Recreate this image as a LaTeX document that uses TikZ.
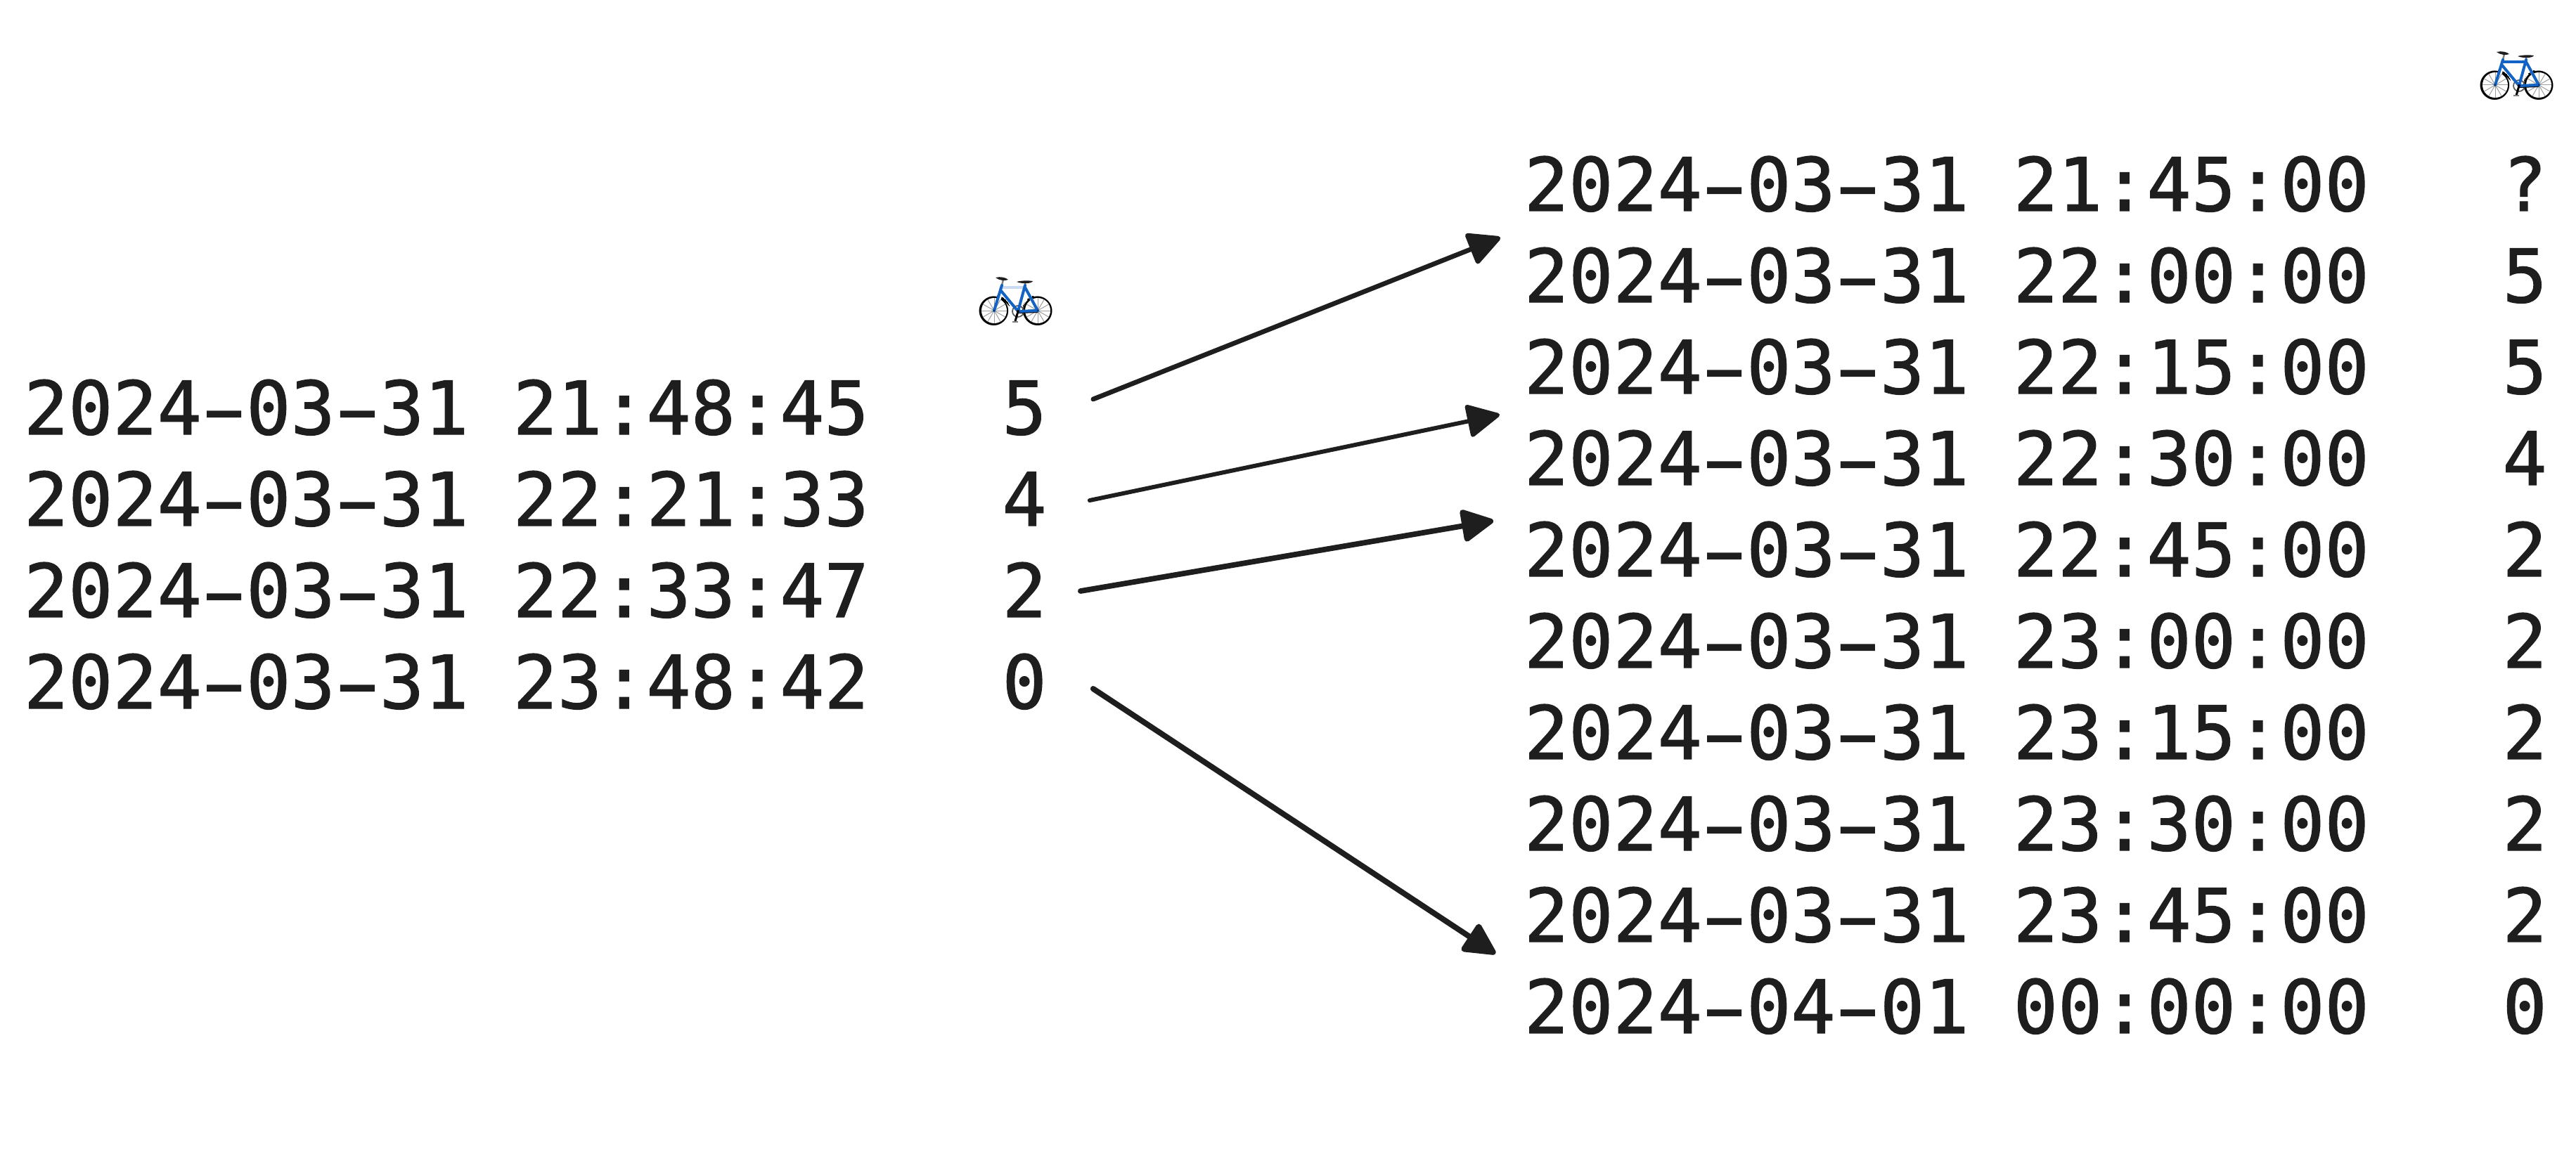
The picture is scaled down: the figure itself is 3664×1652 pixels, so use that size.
\documentclass[tikz,border=0pt]{standalone}
\usepackage{fontspec}
\setmonofont[Ligatures=NoCommon,FakeBold=1.2]{DejaVu Sans Mono}
\newfontfamily\emojifont{Noto Emoji}
\usetikzlibrary{arrows.meta}
\definecolor{ink}{HTML}{1E1E1E}
\definecolor{bikeblue}{HTML}{1263C4}
\definecolor{paletube}{HTML}{C9DAF2}
\newcommand{\hy}{\makebox[0.602em][c]{\scalebox{1.75}[1.0]{-}}}
\newcommand{\gap}{\ \ \ }
\tikzset{
  rowtext/.style={anchor=base west,inner sep=0pt,outer sep=0pt,text=ink,text height=1.52cm,text depth=0pt,
    font=\ttfamily\fontsize{59.8}{60}\selectfont},
  conn/.style={draw=ink,line width=0.135cm,line cap=round,-{Triangle[length=1.0cm,width=0.98cm,round]}},
  bikeglyph/.style={inner sep=0pt,text=black,font=\emojifont\fontsize{51.6}{52}\selectfont},
  tube/.style={draw=bikeblue,line width=0.08cm,line cap=round},
  spoke/.style={draw=gray!75,line width=0.02cm},
  bike/.pic={
    \begin{scope}
      \clip (-31,0) circle (22.5) (31,0) circle (22.5);
      \node[bikeglyph] (-glyph) at (0,-13.8) {🚲};
    \end{scope}
    \fill[white] (-31,0) circle (18) (31,0) circle (18);
    \foreach \cx in {-31,31} \foreach \a in {0,30,...,330}
      \draw[spoke] (\cx,0) -- ++(\a:18);
    \draw[gray!70!black,line width=0.035cm] (3,1) circle (8);
    \draw[black,line width=0.04cm] (3,1) -- (31,-1) (3,3) -- (31,2);
    \draw[black,line width=0.06cm] (3,1) -- (-1,15);
    \draw[gray,line width=0.04cm] (-5,15.5) -- (3,15.5);
    \draw[gray,line width=0.05cm] (-18,-44) -- (-20,-36) (13,-41) -- (13,-35);
    \fill[ink] (-29,-47) .. controls (-22,-49) and (-14,-47) .. (-11,-44) .. controls (-16,-42) and (-24,-43) .. cycle;
    \fill[ink] (1,-41) .. controls (8,-43) and (18,-43) .. (24,-42) .. controls (22,-38) and (8,-38) .. cycle;
    \draw[draw=#1,line width=0.07cm] (-20,-33) -- (13,-33);
    \draw[tube] (-31,0) -- (-20,-36) (-21,-28) -- (3,1) (3,1) -- (13,-36) (13,-33) -- (31,0) (3,1) -- (31,0);
    \fill[black] (3,1) circle (2);
    \fill[bikeblue!60!black] (-31,0) circle (1.6) (31,0) circle (1.6);
  },
}
\begin{document}
\begin{tikzpicture}[x=0.02cm,y=-0.02cm]
\useasboundingbox (0,0) rectangle (3664,1652);
\pic (bikeL) at (1445,442) {bike=paletube};
\pic (bikeR) at (3580,121) {bike=bikeblue};
\node[rowtext] (l1) at (34,618) {2024\hy03\hy31 21:48:45\gap 5};
\node[rowtext] (l2) at (34,748) {2024\hy03\hy31 22:21:33\gap 4};
\node[rowtext] (l3) at (34,878) {2024\hy03\hy31 22:33:47\gap 2};
\node[rowtext] (l4) at (34,1008) {2024\hy03\hy31 23:48:42\gap 0};
\node[rowtext] (r1) at (2168,300) {2024\hy03\hy31 21:45:00\gap ?};
\node[rowtext] (r2) at (2168,430) {2024\hy03\hy31 22:00:00\gap 5};
\node[rowtext] (r3) at (2168,560) {2024\hy03\hy31 22:15:00\gap 5};
\node[rowtext] (r4) at (2168,690) {2024\hy03\hy31 22:30:00\gap 4};
\node[rowtext] (r5) at (2168,820) {2024\hy03\hy31 22:45:00\gap 2};
\node[rowtext] (r6) at (2168,950) {2024\hy03\hy31 23:00:00\gap 2};
\node[rowtext] (r7) at (2168,1080) {2024\hy03\hy31 23:15:00\gap 2};
\node[rowtext] (r8) at (2168,1210) {2024\hy03\hy31 23:30:00\gap 2};
\node[rowtext] (r9) at (2168,1340) {2024\hy03\hy31 23:45:00\gap 2};
\node[rowtext] (r10) at (2168,1470) {2024\hy04\hy01 00:00:00\gap 0};
\draw[conn] ([shift={(66,-12)}]l1.east) -- ([shift={(-34,-54)}]r2.west);
\draw[conn,line width=0.12cm] ([shift={(61,2)}]l2.east) -- ([shift={(-35,-62)}]r4.west);
\draw[conn,line width=0.155cm] ([shift={(48,1)}]l3.east) -- ([shift={(-44,-41)}]r5.west);
\draw[conn,line width=0.16cm] ([shift={(66,10)}]l4.east) -- ([shift={(-41,-75)}]r10.west);
\end{tikzpicture}
\end{document}
